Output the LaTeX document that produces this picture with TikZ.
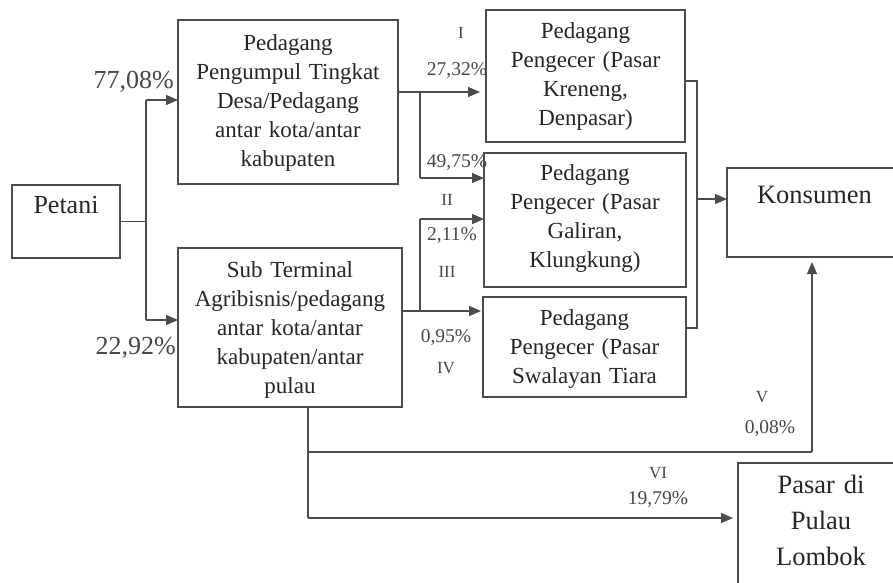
\documentclass[tikz,border=0pt]{standalone}
\usepackage{fontspec}
\setmainfont{Liberation Serif}
\usetikzlibrary{arrows.meta}
\definecolor{linec}{gray}{0.3}
\definecolor{txtc}{gray}{0.15}
\definecolor{lblc}{gray}{0.28}
\newcommand\bxf{\fontsize{23}{29}\selectfont}
\newcommand\bgf{\fontsize{26.5}{36}\selectfont}
\newcommand\pcf{\fontsize{26}{30}\selectfont}
\newcommand\smf{\fontsize{19.5}{22}\selectfont}
\newcommand\rmf{\fontsize{17}{20}\selectfont}
\tikzset{
  box/.style={draw=linec, line width=1.2pt, inner sep=0pt, outer sep=0pt,
    align=center, anchor=north west, text=txtc},
  ln/.style={draw=linec, line width=1.2pt},
  arr/.style={ln, -{Triangle[length=12pt,width=10pt]}},
  lbl/.style={anchor=base, inner sep=0pt, text=lblc}
}
\begin{document}
\begin{tikzpicture}[x=1pt,y=-1pt]
\useasboundingbox (0,0) rectangle (893,582);
\clip (0,0) rectangle (893,582);
\fill[white] (0,0) rectangle (893,582);

% boxes
\node[box, text width=108pt, text height=28pt, text depth=45pt, font=\pcf] (pet) at (12,185) {Petani};
\node[box, text width=220pt, text height=30pt, text depth=134pt, font=\bxf] (pk) at (178,20)
  {Pedagang\\Pengumpul Tingkat\\Desa/Pedagang\\antar kota/antar\\kabupaten};
\node[box, text width=224pt, text height=29pt, text depth=130pt, font=\bxf] (st) at (178,248)
  {Sub Terminal\\Agribisnis/pedagang\\antar kota/antar\\kabupaten/antar\\pulau};
\node[box, text width=199pt, text height=28pt, text depth=104pt, font=\bxf] (kr) at (486,10)
  {Pedagang\\Pengecer (Pasar\\Kreneng,\\Denpasar)};
\node[box, text width=202pt, text height=27pt, text depth=107pt, font=\bxf] (gl) at (484,153)
  {Pedagang\\Pengecer (Pasar\\Galiran,\\Klungkung)};
\node[box, text width=203pt, text height=28pt, text depth=72pt, font=\bxf] (sw) at (483,297)
  {Pedagang\\Pengecer (Pasar\\Swalayan Tiara};
\node[box, text width=175pt, text height=35pt, text depth=54pt, font=\bgf] (ks) at (727,168) {Konsumen};
\node[box, text width=166pt, text height=30pt, text depth=140pt, font=\bgf] (lb) at (738,463)
  {Pasar di\\Pulau\\Lombok};

% labels
\node[lbl, font=\pcf, anchor=base east] (p1) at (174,88) {77,08\%};
\node[lbl, font=\pcf, anchor=base east] (p2) at (176,354) {22,92\%};
\node[lbl, font=\rmf] (r1) at (461,38) {I};
\node[lbl, font=\smf] (l1) at (457,75) {27,32\%};
\node[lbl, font=\smf] (l2) at (457,167) {49,75\%};
\node[lbl, font=\rmf] (r2) at (447,205) {II};
\node[lbl, font=\smf] (l3) at (452,240) {2,11\%};
\node[lbl, font=\rmf] (r3) at (447,277) {III};
\node[lbl, font=\smf] (l4) at (446,342) {0,95\%};
\node[lbl, font=\rmf] (r4) at (446,373) {IV};
\node[lbl, font=\rmf] (r5) at (762,402) {V};
\node[lbl, font=\smf] (l5) at (770,433) {0,08\%};
\node[lbl, font=\rmf] (r6) at (658,478) {VI};
\node[lbl, font=\smf] (l6) at (658,504) {19,79\%};

% connectors from Petani
\coordinate (a1) at (146,100);
\coordinate (a2) at (146,320);
\draw[ln] (pet.east) -- (pet.east -| a1);
\draw[ln] (a1) -- (a2);
\draw[arr] (a1) -- (a1 -| pk.west);
\draw[arr] (a2) -- (a2 -| st.west);

% from Pengumpul
\coordinate (b1) at (420,92);
\coordinate (b2) at (420,178);
\draw[arr, shorten >=6pt] (b1 -| pk.east) -- (b1 -| kr.west);
\draw[ln] (b1) -- (b2);
\draw[arr] (b2) -- (b2 -| gl.west);

% from Sub Terminal
\coordinate (c1) at (420,311);
\coordinate (c2) at (420,219);
\draw[arr, shorten >=2pt] (c1 -| st.east) -- (c1 -| sw.west);
\draw[ln] (c1) -- (c2);
\draw[arr] (c2) -- (c2 -| gl.west);

% bracket to Konsumen
\coordinate (d1) at (697,81);
\coordinate (d2) at (697,328);
\coordinate (d3) at (697,199);
\draw[ln] (d1 -| kr.east) -- (d1) -- (d2) -- (d2 -| sw.east);
\draw[arr] (d3) -- (d3 -| ks.west);

% bottom routes
\coordinate (e1) at (308,452);
\coordinate (e2) at (308,518);
\coordinate (e3) at (812,452);
\draw[ln] (st.south -| e1) -- (e2);
\draw[arr, shorten >=5pt] (e2) -- (e2 -| lb.west);
\draw[ln] (e1) -- (e3);
\draw[arr, shorten >=5pt] (e3) -- (e3 |- ks.south);
\end{tikzpicture}
\end{document}
